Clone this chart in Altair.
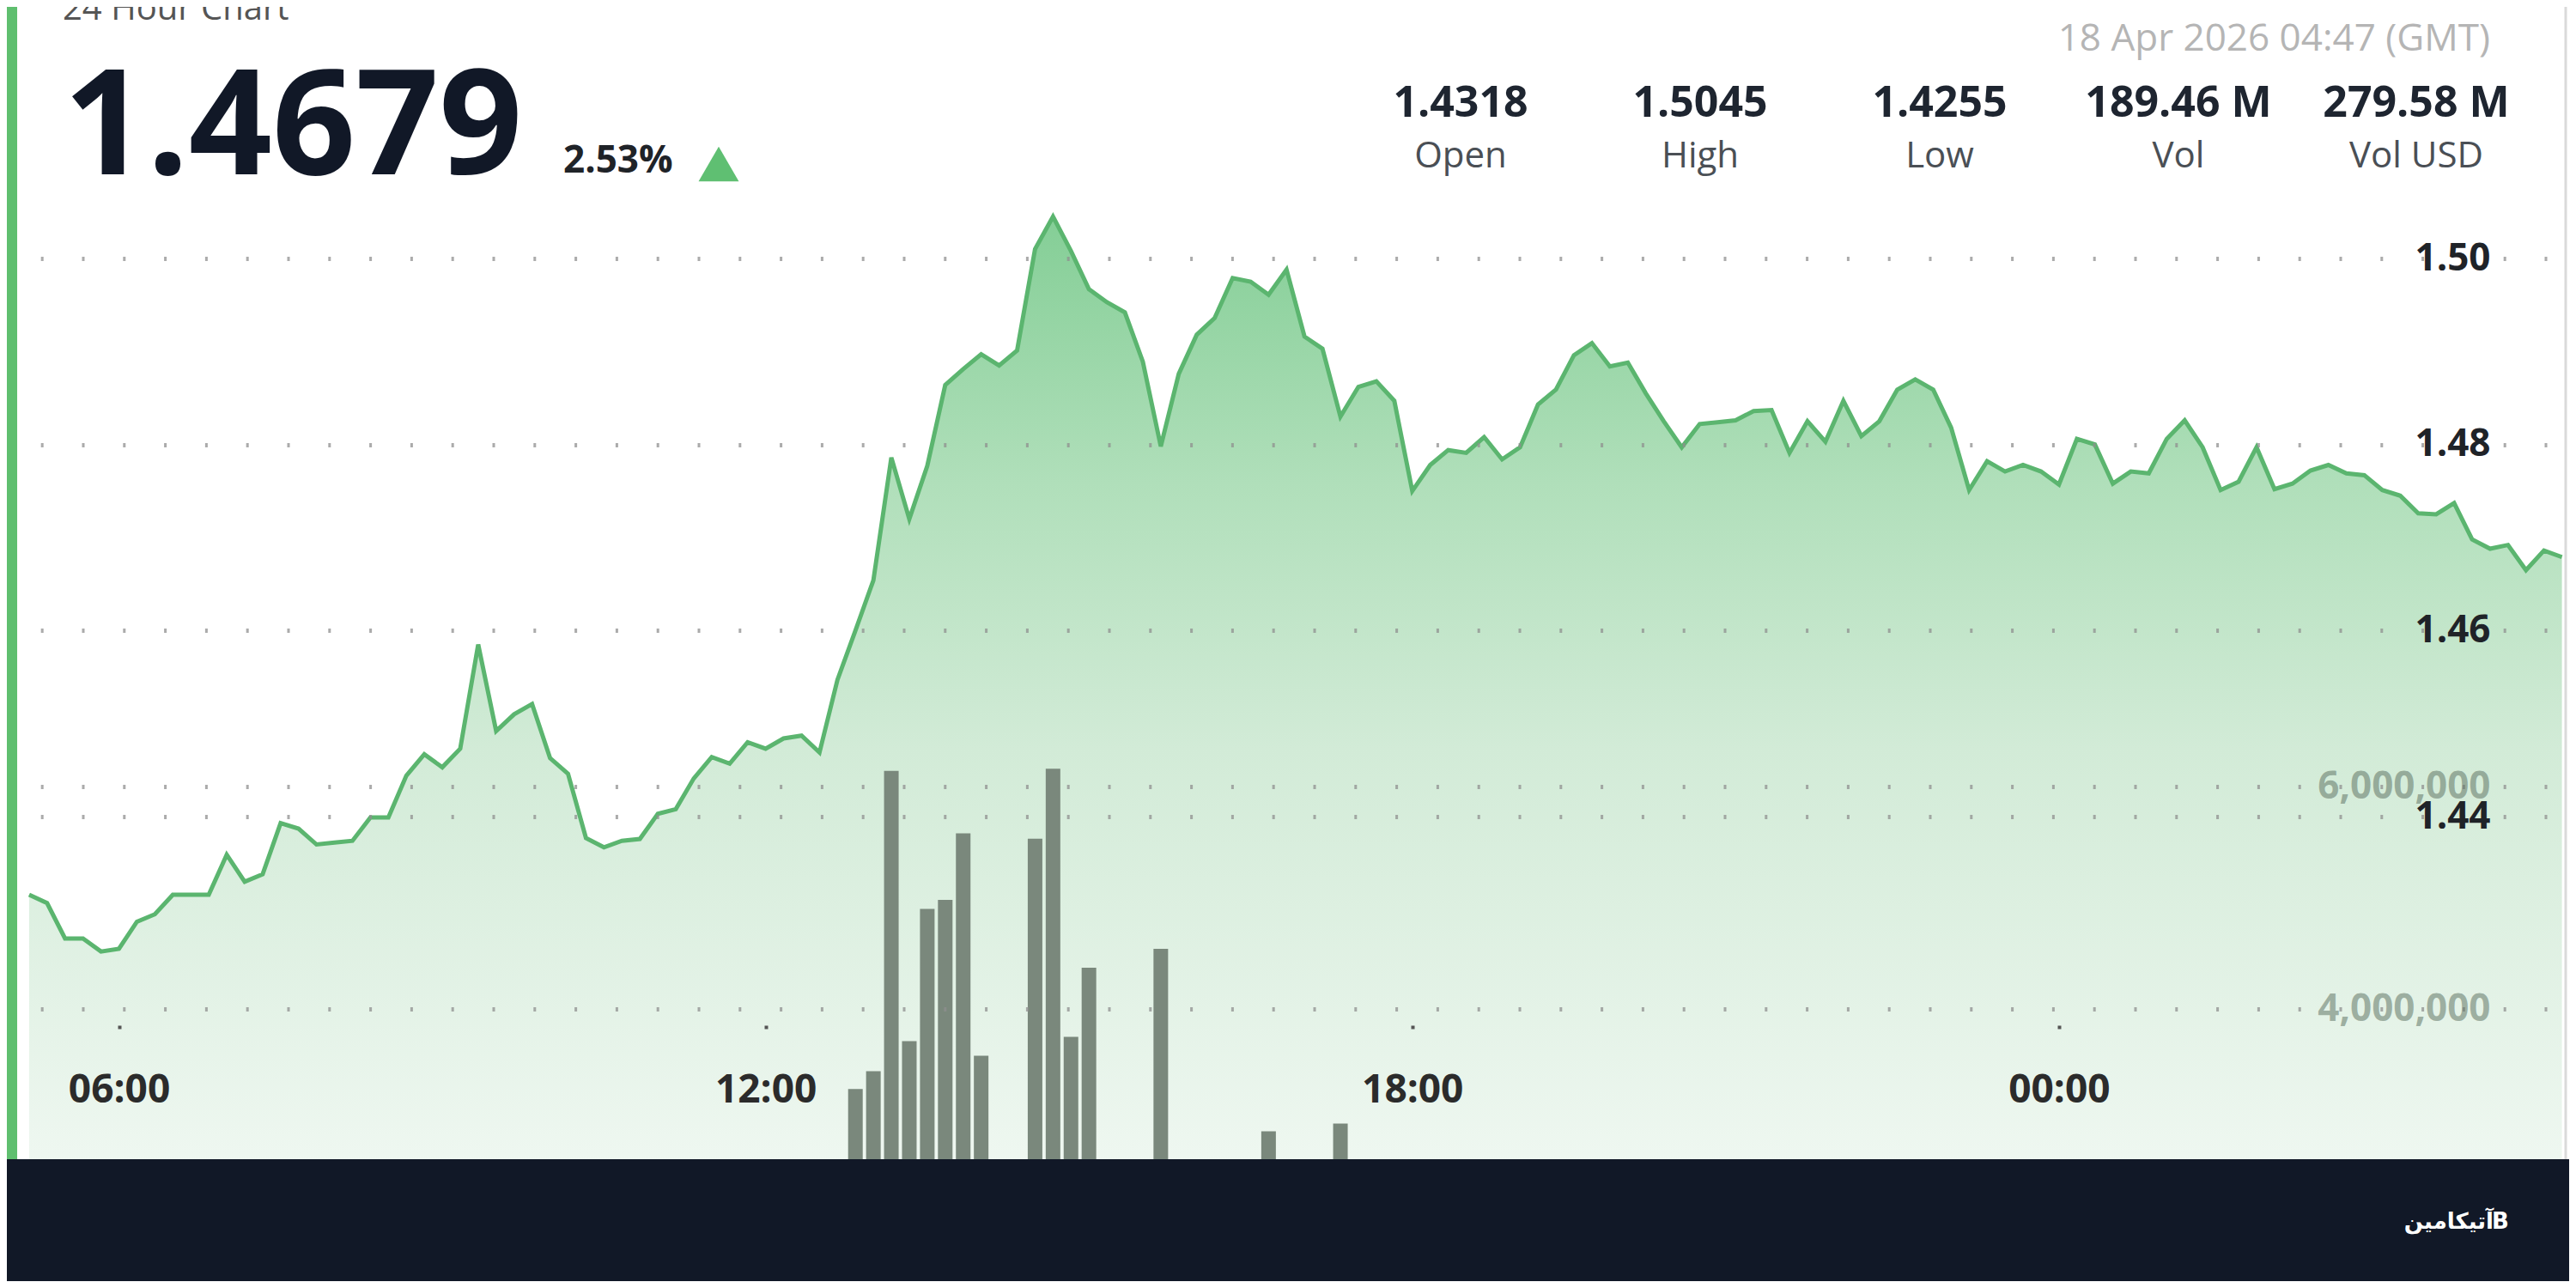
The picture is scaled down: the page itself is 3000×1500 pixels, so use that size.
import altair as alt
import pandas as pd

# ---------------- data ----------------
price_times = [
    "05:10", "05:20", "05:30", "05:40", "05:50",
    "06:00", "06:10", "06:20", "06:30", "06:40", "06:50",
    "07:00", "07:10", "07:20", "07:30", "07:40", "07:50",
    "08:00", "08:10", "08:20", "08:30", "08:40", "08:50",
    "09:00", "09:10", "09:20", "09:30", "09:40", "09:50",
    "10:00", "10:10", "10:20", "10:30", "10:40", "10:50",
    "11:00", "11:10", "11:20", "11:30", "11:40", "11:50",
    "12:00", "12:10", "12:20", "12:30", "12:40", "12:50",
    "13:00", "13:10", "13:20", "13:30", "13:40", "13:50",
    "14:00", "14:10", "14:20", "14:30", "14:40", "14:50",
    "15:00", "15:10", "15:20", "15:30", "15:40", "15:50",
    "16:00", "16:10", "16:20", "16:30", "16:40", "16:50",
    "17:00", "17:10", "17:20", "17:30", "17:40", "17:50",
    "18:00", "18:10", "18:20", "18:30", "18:40", "18:50",
    "19:00", "19:10", "19:20", "19:30", "19:40", "19:50",
    "20:00", "20:10", "20:20", "20:30", "20:40", "20:50",
    "21:00", "21:10", "21:20", "21:30", "21:40", "21:50",
    "22:00", "22:10", "22:20", "22:30", "22:40", "22:50",
    "23:00", "23:10", "23:20", "23:30", "23:40", "23:50",
    "00:00", "00:10", "00:20", "00:30", "00:40", "00:50",
    "01:00", "01:10", "01:20", "01:30", "01:40", "01:50",
    "02:00", "02:10", "02:20", "02:30", "02:40", "02:50",
    "03:00", "03:10", "03:20", "03:30", "03:40", "03:50",
    "04:00", "04:10", "04:20", "04:30", "04:40",
]
price_values = [
    1.4316, 1.4307, 1.4269, 1.4269, 1.4255,
    1.4258, 1.4287, 1.4295, 1.4316, 1.4316, 1.4316,
    1.4359, 1.4330, 1.4338, 1.4393, 1.4387, 1.4370,
    1.4372, 1.4374, 1.4399, 1.4399, 1.4444, 1.4467,
    1.4453, 1.4473, 1.4585, 1.4492, 1.4510, 1.4521,
    1.4463, 1.4446, 1.4377, 1.4367, 1.4374, 1.4376,
    1.4403, 1.4408, 1.4441, 1.4464, 1.4457, 1.4480,
    1.4473, 1.4484, 1.4487, 1.4469, 1.4547, 1.4600,
    1.4654, 1.4786, 1.4720, 1.4777, 1.4864, 1.4881,
    1.4897, 1.4885, 1.4901, 1.5010, 1.5045, 1.5008,
    1.4967, 1.4953, 1.4942, 1.4889, 1.4798, 1.4876,
    1.4918, 1.4936, 1.4979, 1.4975, 1.4961, 1.4988,
    1.4916, 1.4903, 1.4830, 1.4862, 1.4868, 1.4847,
    1.4750, 1.4778, 1.4794, 1.4791, 1.4808, 1.4784,
    1.4797, 1.4843, 1.4859, 1.4896, 1.4909, 1.4884,
    1.4888, 1.4855, 1.4825, 1.4797, 1.4822, 1.4824,
    1.4826, 1.4836, 1.4837, 1.4791, 1.4825, 1.4803,
    1.4847, 1.4809, 1.4825, 1.4859, 1.4870, 1.4859,
    1.4818, 1.4751, 1.4782, 1.4771, 1.4778, 1.4771,
    1.4757, 1.4806, 1.4800, 1.4758, 1.4771, 1.4769,
    1.4806, 1.4826, 1.4797, 1.4751, 1.4760, 1.4797,
    1.4752, 1.4758, 1.4772, 1.4778, 1.4769, 1.4767,
    1.4751, 1.4745, 1.4726, 1.4725, 1.4737, 1.4698,
    1.4688, 1.4692, 1.4665, 1.4686, 1.4679,
]
vol_times = ["12:50", "13:00", "13:10", "13:20", "13:30", "13:40", "13:50", "14:00",
             "14:30", "14:40", "14:50", "15:00", "15:40", "16:40", "17:20"]
vol_values = [3280000, 3440000, 6140000, 3710000, 4900000, 4980000, 5580000, 3580000,
              5530000, 6160000, 3750000, 4370000, 4540000, 2900000, 2970000]

price_ticks = [1.44, 1.46, 1.48, 1.50]
vol_ticks = [4000000, 6000000]
time_ticks = ["06:00", "12:00", "18:00", "00:00"]

title_text = "24 Hour Chart"
last_price = "1.4679"
change_text = "2.53%"
timestamp_text = "18 Apr 2026 04:47 (GMT)"
stat_values = ["1.4318", "1.5045", "1.4255", "189.46 M", "279.58 M"]
stat_labels = ["Open", "High", "Low", "Vol", "Vol USD"]
brand_text = "آتیکامین"
brand_logo = "B"


def to_min(t):
    h, m = map(int, t.split(":"))
    v = h * 60 + m
    return v + 1440 if h < 5 else v


price_df = pd.DataFrame({"m": [to_min(t) for t in price_times], "p": price_values})
vol_df = pd.DataFrame({"m": [to_min(t) for t in vol_times], "v": vol_values})

# ---------------- layout ----------------
W, H = 2984, 1484
PX_PER_MIN = 125.94 / 60.0
X0 = 300.0
X1 = X0 + W / PX_PER_MIN
PX_PER_PRICE = 216.67 / 0.02
P_TOP = 1.50 + 293 / PX_PER_PRICE
P_BOT = P_TOP - H / PX_PER_PRICE
PX_PER_VOL = 259.0 / 2000000
V_TOP = 6000000 + 908 / PX_PER_VOL
V_BOT = V_TOP - H / PX_PER_VOL
FOOT_Y = 1342

FONT = "Open Sans"
GRID = dict(grid=True, gridDash=[3, 44.8], gridDashOffset=21.8, gridColor="#8f8f8f",
            gridWidth=5, gridOpacity=0.75, domain=False, ticks=False, tickSize=0,
            labelAlign="right", labelPadding=0, offset=-92, labelFont=FONT,
            labelFontSize=44, labelFontWeight="bold", title=None, zindex=1,
            orient="right", labelOverlap=False, labelLimit=0)

x_axis = alt.Axis(values=[to_min(t) for t in time_ticks],
                  labelExpr="(floor(datum.value/60)%24 < 10 ? '0' : '') + (floor(datum.value/60)%24) + ':00'",
                  grid=False, domain=False, tickSize=4, tickWidth=4, tickColor="#555555",
                  labelFont=FONT, labelFontSize=46, labelFontWeight="bold", labelColor="#2b2b2b",
                  labelPadding=71, labelBaseline="middle", offset=-298, title=None,
                  labelFlush=False, labelOverlap=False, zindex=1)
x_scale = alt.Scale(domain=[X0, X1], nice=False, zero=False)
x_enc = alt.X("m:Q", scale=x_scale, axis=x_axis)

p_scale = alt.Scale(domain=[P_BOT, P_TOP], nice=False, zero=False)

area = alt.Chart(price_df).mark_area(
    color=alt.Gradient(
        gradient="linear",
        stops=[alt.GradientStop(color="#84ce96", offset=0),
               alt.GradientStop(color="#b0dfba", offset=0.25),
               alt.GradientStop(color="#d2ebd7", offset=0.5),
               alt.GradientStop(color="#eef7f0", offset=0.88),
               alt.GradientStop(color="#f4faf5", offset=1)],
        x1=1, x2=1, y1=0, y2=1)
).encode(
    x=x_enc,
    y=alt.Y("p:Q", scale=p_scale,
            axis=alt.Axis(values=price_ticks, format=".2f", labelColor="#1f2328", **GRID)),
    y2=alt.Y2Datum(P_BOT),
)

bars = alt.Chart(vol_df).mark_bar(size=17, color="#7a887c").encode(
    x=x_enc,
    y=alt.Y("v:Q", scale=alt.Scale(domain=[V_BOT, V_TOP], nice=False, zero=False),
            axis=alt.Axis(values=vol_ticks, format=",d", labelColor="rgba(95,115,100,0.55)", **GRID)),
    y2=alt.Y2Datum(V_BOT),
)

line = alt.Chart(price_df).mark_line(color="#5bb56f", strokeWidth=5).encode(
    x=x_enc,
    y=alt.Y("p:Q", scale=p_scale, axis=None),
)

one = pd.DataFrame({"k": [0]})

green_bar = alt.Chart(one).mark_rect(color="#5fbf6f").encode(
    x=alt.value(0), x2=alt.value(12), y=alt.value(0), y2=alt.value(FOOT_Y))
right_border = alt.Chart(one).mark_rule(color="#dadada", strokeWidth=3).encode(
    x=alt.value(2980), y=alt.value(0), y2=alt.value(FOOT_Y))
footer = alt.Chart(one).mark_rect(color="#111827").encode(
    x=alt.value(0), x2=alt.value(W), y=alt.value(FOOT_Y), y2=alt.value(H))


def text_layer(s, x, y, size, color, weight="normal", align="left",
               baseline="alphabetic", font=FONT):
    return alt.Chart(pd.DataFrame({"t": [s]})).mark_text(
        font=font, fontSize=size, fontWeight=weight, color=color,
        align=align, baseline=baseline
    ).encode(x=alt.value(x), y=alt.value(y), text="t:N")


texts = [
    text_layer(title_text, 65, 15, 40, "#555555"),
    text_layer(last_price, 66, 195, 170, "#111827", weight="bold"),
    text_layer(change_text, 648, 193, 44, "#1f2328", weight="bold"),
    text_layer(timestamp_text, 2892, 51, 44, "#b5b5b5", align="right"),
    text_layer(brand_text, 2896, 1415, 26, "#ffffff", weight="bold",
               align="right", baseline="middle", font="DejaVu Sans"),
    text_layer(brand_logo, 2904, 1415, 26, "#ffffff", weight="bold",
               align="center", baseline="middle", font="DejaVu Sans"),
]
stat_centers = [1693, 1972, 2251, 2529, 2806]
for val, lab, cx in zip(stat_values, stat_labels, stat_centers):
    texts.append(text_layer(val, cx, 128, 50, "#1e2530", weight="bold", align="center"))
    texts.append(text_layer(lab, cx, 187, 42, "#4a4f55", align="center"))

triangle = alt.Chart(one).mark_point(shape="triangle-up", filled=True, size=2200,
                                     color="#5fbf72", opacity=1).encode(
    x=alt.value(829), y=alt.value(183))

chart = alt.layer(
    area, bars, line, green_bar, right_border, footer, triangle, *texts
).resolve_scale(
    y="independent"
).properties(
    width=W, height=H,
    autosize=alt.AutoSizeParams(type="none"),
    padding=0,
    background="white",
).configure_view(stroke=None)

chart.save("out.html", embed_options={"renderer": "svg", "actions": False})
